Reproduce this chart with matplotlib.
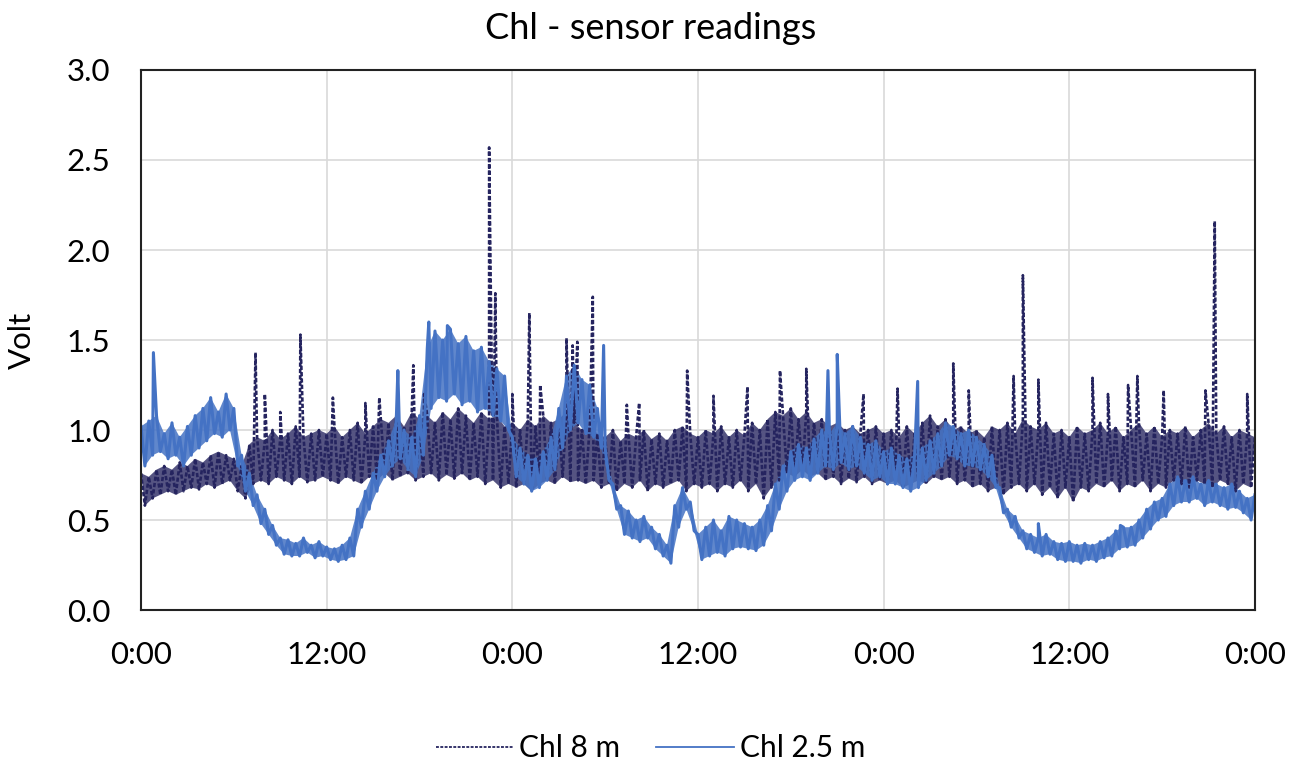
import numpy as np
import matplotlib
matplotlib.use("Agg")
import matplotlib.pyplot as plt

plt.rcParams['font.family'] = ['Lato', 'DejaVu Sans']

# sample grid: every half hour over three days (hours since start)
hours_hi = np.arange(145) * 0.5
hours_lo = np.arange(144) * 0.5 + 0.25

# Chl 2.5 m - upper and lower edge of the noisy band
chl25_hi = [1.02, 1.05, 1.08, 0.98, 1.04, 0.96, 1.02, 1.08, 1.12, 1.18, 1.10, 1.20,
            1.12, 0.86, 0.76, 0.64, 0.56, 0.47, 0.40, 0.39, 0.37, 0.40, 0.36, 0.38,
            0.35, 0.34, 0.36, 0.40, 0.56, 0.66, 0.76, 0.86, 0.94, 1.06, 1.00, 0.96,
            1.08, 1.45, 1.55, 1.50, 1.56, 1.48, 1.52, 1.44, 1.46, 1.38, 1.34, 1.30,
            0.96, 0.90, 0.86, 0.84, 0.88, 0.96, 1.12, 1.30, 1.36, 1.28, 1.25, 1.12,
            0.90, 0.70, 0.58, 0.55, 0.50, 0.52, 0.46, 0.42, 0.36, 0.58, 0.68, 0.60,
            0.42, 0.46, 0.50, 0.44, 0.52, 0.50, 0.48, 0.46, 0.50, 0.58, 0.70, 0.80,
            0.88, 0.92, 0.90, 0.95, 1.00, 0.98, 1.04, 0.98, 1.02, 0.96, 0.92, 0.94,
            0.88, 0.90, 0.86, 0.84, 0.86, 0.90, 0.94, 0.98, 1.04, 1.02, 0.98, 1.00,
            0.96, 0.92, 0.86, 0.68, 0.56, 0.52, 0.44, 0.42, 0.40, 0.42, 0.38, 0.37,
            0.38, 0.36, 0.37, 0.36, 0.38, 0.40, 0.44, 0.46, 0.46, 0.50, 0.56, 0.60,
            0.62, 0.70, 0.74, 0.72, 0.74, 0.70, 0.72, 0.70, 0.68, 0.70, 0.66, 0.62,
            0.64]
chl25_lo = [0.80, 0.86, 0.88, 0.84, 0.86, 0.80, 0.86, 0.90, 0.94, 0.98, 0.96, 1.00,
            0.80, 0.66, 0.58, 0.48, 0.42, 0.36, 0.31, 0.30, 0.30, 0.32, 0.29, 0.30,
            0.28, 0.27, 0.28, 0.30, 0.46, 0.56, 0.66, 0.74, 0.80, 0.84, 0.78, 0.74,
            0.86, 1.12, 1.18, 1.16, 1.20, 1.14, 1.16, 1.10, 1.12, 1.08, 1.05, 1.00,
            0.74, 0.70, 0.66, 0.68, 0.72, 0.78, 0.90, 1.00, 1.04, 0.98, 0.96, 0.90,
            0.72, 0.56, 0.42, 0.40, 0.38, 0.40, 0.34, 0.30, 0.26, 0.46, 0.56, 0.44,
            0.28, 0.30, 0.32, 0.30, 0.34, 0.35, 0.34, 0.33, 0.36, 0.44, 0.56, 0.66,
            0.72, 0.74, 0.72, 0.76, 0.80, 0.78, 0.82, 0.78, 0.80, 0.76, 0.72, 0.74,
            0.70, 0.70, 0.68, 0.66, 0.68, 0.72, 0.76, 0.80, 0.86, 0.84, 0.80, 0.80,
            0.78, 0.74, 0.68, 0.54, 0.46, 0.40, 0.34, 0.32, 0.30, 0.31, 0.28, 0.27,
            0.27, 0.26, 0.28, 0.27, 0.29, 0.30, 0.34, 0.35, 0.36, 0.40, 0.45, 0.50,
            0.52, 0.58, 0.60, 0.60, 0.62, 0.58, 0.60, 0.58, 0.56, 0.57, 0.54, 0.50]
chl25_spike_t = [0.8, 16.6, 18.6, 19.8, 29.9, 44.4, 45.0, 50.2, 58.0, 63.3]
chl25_spike_v = [1.43, 1.33, 1.60, 1.58, 1.47, 1.33, 1.42, 1.27, 0.48, 0.47]

# Chl 8 m
chl8_hi = [0.76, 0.74, 0.78, 0.80, 0.78, 0.82, 0.80, 0.84, 0.82, 0.86, 0.88, 0.86,
           0.84, 0.80, 0.92, 0.96, 0.94, 1.00, 0.95, 0.98, 1.02, 0.96, 0.98, 1.00,
           0.98, 1.02, 0.96, 1.00, 1.04, 0.98, 1.02, 1.06, 1.04, 1.08, 1.02, 1.10,
           1.06, 1.08, 1.04, 1.10, 1.06, 1.12, 1.08, 1.04, 1.10, 1.06, 1.08, 1.02,
           1.04, 1.00, 1.06, 1.02, 1.08, 1.04, 1.06, 1.10, 1.04, 1.00, 1.02, 0.98,
           0.96, 1.00, 0.94, 0.98, 0.96, 1.00, 0.95, 0.98, 0.94, 1.00, 1.02, 0.98,
           0.96, 1.00, 0.98, 1.02, 0.96, 1.00, 0.97, 1.04, 1.00, 1.06, 1.10, 1.08,
           1.12, 1.06, 1.10, 1.04, 1.06, 1.02, 1.04, 1.00, 1.02, 0.98, 1.00, 1.02,
           0.98, 1.00, 0.96, 1.02, 0.98, 1.04, 1.08, 1.02, 1.06, 1.00, 1.02, 0.98,
           1.00, 0.96, 1.02, 1.00, 1.04, 0.98, 1.06, 1.02, 1.00, 1.04, 0.98, 1.00,
           0.96, 1.02, 0.98, 1.00, 1.04, 0.98, 1.02, 0.96, 1.00, 1.04, 0.98, 1.02,
           0.96, 1.00, 0.98, 1.02, 0.96, 1.00, 1.04, 0.98, 1.02, 0.96, 1.00, 0.98,
           0.96]
chl8_lo = [0.58, 0.62, 0.64, 0.66, 0.64, 0.66, 0.68, 0.67, 0.70, 0.68, 0.70, 0.72,
           0.66, 0.62, 0.70, 0.72, 0.70, 0.74, 0.72, 0.70, 0.74, 0.71, 0.72, 0.74,
           0.72, 0.70, 0.74, 0.72, 0.70, 0.74, 0.72, 0.76, 0.72, 0.74, 0.76, 0.72,
           0.74, 0.76, 0.72, 0.75, 0.73, 0.76, 0.72, 0.74, 0.70, 0.72, 0.68, 0.70,
           0.68, 0.70, 0.66, 0.70, 0.72, 0.70, 0.74, 0.71, 0.72, 0.70, 0.72, 0.68,
           0.70, 0.66, 0.70, 0.68, 0.72, 0.66, 0.70, 0.68, 0.70, 0.72, 0.66, 0.70,
           0.68, 0.70, 0.66, 0.70, 0.68, 0.72, 0.66, 0.70, 0.62, 0.68, 0.72, 0.76,
           0.74, 0.78, 0.74, 0.76, 0.72, 0.74, 0.70, 0.73, 0.71, 0.74, 0.70, 0.72,
           0.70, 0.72, 0.68, 0.70, 0.72, 0.70, 0.74, 0.72, 0.74, 0.70, 0.72, 0.68,
           0.70, 0.66, 0.68, 0.64, 0.68, 0.70, 0.66, 0.70, 0.64, 0.68, 0.62, 0.68,
           0.60, 0.68, 0.66, 0.70, 0.68, 0.72, 0.66, 0.70, 0.68, 0.72, 0.66, 0.70,
           0.68, 0.72, 0.70, 0.68, 0.72, 0.70, 0.68, 0.72, 0.70, 0.66, 0.70, 0.68]
chl8_spike_t = [7.4, 8.0, 9.0, 10.3, 12.4, 14.5, 15.4, 17.6, 18.3, 22.5, 22.9, 24.0,
                25.1, 25.8, 27.5, 27.9, 28.2, 29.2, 31.4, 32.2, 35.3, 37.0, 39.2, 41.3,
                43.0, 46.7, 48.9, 52.5, 53.5, 56.4, 57.0, 58.0, 61.5, 62.5, 63.8, 64.4,
                66.1, 68.8, 69.4, 71.5]
chl8_spike_v = [1.43, 1.20, 1.10, 1.53, 1.18, 1.15, 1.18, 1.36, 1.20, 2.57, 1.76, 1.20,
                1.65, 1.25, 1.51, 1.47, 1.49, 1.74, 1.14, 1.15, 1.33, 1.19, 1.24, 1.33,
                1.34, 1.20, 1.23, 1.37, 1.22, 1.30, 1.86, 1.28, 1.29, 1.20, 1.25, 1.30,
                1.22, 1.22, 2.16, 1.20]

x_ticks = [0, 12, 24, 36, 48, 60, 72]
x_labels = ['0:00', '12:00', '0:00', '12:00', '0:00', '12:00', '0:00']
y_ticks = [0.0, 0.5, 1.0, 1.5, 2.0, 2.5, 3.0]


def build_series(hi, lo, spike_t, spike_v):
    # merge band edges and spikes into one time ordered trace
    t = np.concatenate([hours_hi, hours_lo, spike_t])
    v = np.concatenate([hi, lo, spike_v])
    order = np.argsort(t, kind='stable')
    return t[order], v[order]


def band_outline(hi, lo):
    # closed outline: upper edge forward, lower edge backward
    xs = np.concatenate([hours_hi, hours_lo[::-1]])
    ys = np.concatenate([hi, lo[::-1]])
    return xs, ys


t8, v8 = build_series(chl8_hi, chl8_lo, chl8_spike_t, chl8_spike_v)
t25, v25 = build_series(chl25_hi, chl25_lo, chl25_spike_t, chl25_spike_v)

c8 = '#25245f'
c25 = '#4472c4'

fig = plt.figure(figsize=(13.01, 7.65), dpi=100)
ax = fig.add_axes([0.1084, 0.2026, 0.8562, 0.7059])

bx, by = band_outline(np.array(chl8_hi), np.array(chl8_lo))
ax.fill(bx, by, color=c8, alpha=0.78, lw=0)
ax.plot(t8, v8, color=c8, lw=1.9, linestyle=(0, (1.6, 0.8)), label='Chl 8 m')

bx, by = band_outline(np.array(chl25_hi), np.array(chl25_lo))
ax.fill(bx, by, color=c25, alpha=0.85, lw=0)
ax.plot(t25, v25, color=c25, lw=2.2, label='Chl 2.5 m')

ax.set_xlim(0, 72)
ax.set_ylim(0, 3.0)
ax.set_xticks(x_ticks)
ax.set_xticklabels(x_labels)
ax.set_yticks(y_ticks)
ax.set_yticklabels(['{:.1f}'.format(y) for y in y_ticks])
ax.tick_params(length=0, labelsize=22.5, pad=22)
ax.grid(True, color='#d9d9d9', lw=1.2)
ax.set_axisbelow(True)
for sp in ax.spines.values():
    sp.set_color('#222222')
    sp.set_linewidth(1.5)

ax.set_ylabel('Volt', fontsize=22.5, labelpad=22)
fig.text(0.5, 0.963, 'Chl - sensor readings', fontsize=26, ha='center', va='center')

leg = fig.legend(loc='center', bbox_to_anchor=(0.5, 0.022), ncol=2, frameon=False,
                 fontsize=21.5, handlelength=2.6, columnspacing=1.2, handletextpad=0.2)
for line in leg.get_lines():
    line.set_linewidth(1.3)

fig.savefig('out.png', dpi=100)
